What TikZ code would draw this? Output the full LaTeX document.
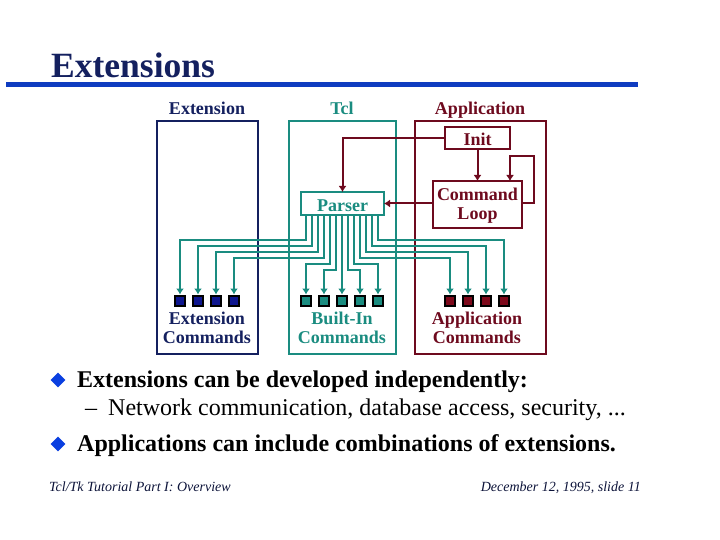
\documentclass[tikz,border=0pt]{standalone}
\usepackage{fontspec}
\setmainfont{Liberation Serif}
\usetikzlibrary{arrows.meta,shapes.geometric}
\definecolor{navyc}{HTML}{14205F}
\definecolor{tealc}{HTML}{1A8C80}
\definecolor{maroonc}{HTML}{6E0A1E}
\definecolor{rulec}{HTML}{0F3CC0}
\definecolor{bulletc}{HTML}{0A3FE0}
\newcommand{\nudgetxt}[2]{\raisebox{#1}[\height][\depth]{#2}}
\tikzset{
    boxframe/.style={draw, line width=2pt, minimum width=#1, minimum height=233pt, anchor=north west, inner sep=0pt, outer sep=0pt},
    labeltxt/.style={font=\fontsize{18}{19}\selectfont\bfseries, align=center, inner sep=0pt, outer sep=0pt},
    innerbox/.style={draw, line width=2pt, labeltxt},
    slot/.style={draw=black, line width=2pt, minimum size=10pt, inner sep=0pt},
    flow/.style={line width=2pt, -{Latex[length=6pt,width=8pt]}},
    bullettxt/.style={font=\fontsize{24}{26}\selectfont\bfseries, anchor=base west, inner sep=0pt},
    bulletmark/.style={diamond, fill=bulletc, minimum size=15pt, inner sep=0pt},
    foottxt/.style={font=\fontsize{14}{16}\selectfont\itshape, text=navyc!60!black, inner sep=0pt}
}
\begin{document}
\begin{tikzpicture}[x=1pt, y=-1pt]
    \useasboundingbox (0,0) rectangle (720,540);

    % Titulo
    \node (title) [anchor=base west, inner sep=0pt, text=navyc, font=\fontsize{35.5}{40}\selectfont\bfseries] at (51,78) {Extensions};
    \fill[rulec] (6,82) rectangle (638,87);

    % Cajas grandes
    \node (extbox) [boxframe=101pt, draw=navyc] at (157,121) {};
    \node (tclbox) [boxframe=107pt, draw=tealc] at (289,121) {};
    \node (appbox) [boxframe=131pt, draw=maroonc] at (415,121) {};

    % Titulos de las cajas
    \node (extlabel) [labeltxt, text=navyc, anchor=base] at (207,114.5) {Extension};
    \node (tcllabel) [labeltxt, text=tealc, anchor=base] at (342,114.5) {Tcl};
    \node (applabel) [labeltxt, text=maroonc, anchor=base] at (480,114.5) {Application};

    % Nodos interiores
    \node (init) [innerbox, draw=maroonc, text=maroonc, minimum width=65pt, minimum height=22pt] at (477.5,138) {\nudgetxt{-1pt}{Init}};
    \node (loop) [innerbox, draw=maroonc, text=maroonc, minimum width=89pt, minimum height=47pt] at (477.5,204.5) {\nudgetxt{-1pt}{Command}\\\nudgetxt{-1pt}{Loop}};
    \node (parser) [innerbox, draw=tealc, text=tealc, minimum width=83pt, minimum height=23pt] at (342.5,203.5) {\nudgetxt{-2pt}{Parser}};

    % Cuadros de comandos
    \foreach \i/\px in {1/180, 2/198, 3/216, 4/234}
        \node (e\i) [slot, fill=navyc!70!blue] at (\px,300.5) {};
    \foreach \i/\px in {1/306, 2/324, 3/342, 4/360, 5/378}
        \node (b\i) [slot, fill=tealc] at (\px,300.5) {};
    \foreach \i/\px in {1/450, 2/468, 3/486, 4/504}
        \node (a\i) [slot, fill=maroonc!90!red] at (\px,300.5) {};

    % Etiquetas inferiores
    \node (extcmd) [labeltxt, text=navyc] at (207,328) {Extension\\Commands};
    \node (tclcmd) [labeltxt, text=tealc] at (342,328) {Built-In\\Commands};
    \node (appcmd) [labeltxt, text=maroonc] at (477,328) {Application\\Commands};

    % Flechas de conexion
    \foreach \t/\sx/\ly in {e1/306/240, e2/312/246, e3/318/252, e4/324/258,
                            b1/330/264, b2/336/270, b4/348/270, b5/354/264,
                            a1/360/258, a2/366/252, a3/372/246, a4/378/240}
        \draw[flow, draw=tealc] (parser.south -| \sx,0) -- (\sx,\ly) -| (\t.north);
    \draw[flow, draw=tealc] (b3 |- parser.south) -- (b3.north);

    \coordinate (selfr) at (534,203.5);
    \coordinate (selft) at (510,156);
    \draw[flow, draw=maroonc] (init.west) -| (parser.north);
    \draw[flow, draw=maroonc] (init.south) -- (init.south |- loop.north);
    \draw[flow, draw=maroonc] (loop.east |- selfr) -- (selfr) |- (selft) -- (selft |- loop.north);
    \draw[flow, draw=maroonc] (loop.west |- parser.east) -- (parser.east);

    % Texto inferior
    \node (m1) [bulletmark] at (58,380) {};
    \node (t1) [bullettxt] at (77,387) {Extensions can be developed independently:};
    \node (t2) [bullettxt, font=\fontsize{24}{26}\selectfont] at (85,415) {–\hspace{11pt}Network communication, database access, security, ...};
    \node (m2) [bulletmark] at (58,444) {};
    \node (t3) [bullettxt] at (77,451) {Applications can include combinations of extensions.};

    \node (footl) [foottxt, anchor=base west] at (49,491) {Tcl/Tk Tutorial Part I: Overview};
    \node (footr) [foottxt, anchor=base east] at (641,491) {December 12, 1995, slide 11};
\end{tikzpicture}
\end{document}
